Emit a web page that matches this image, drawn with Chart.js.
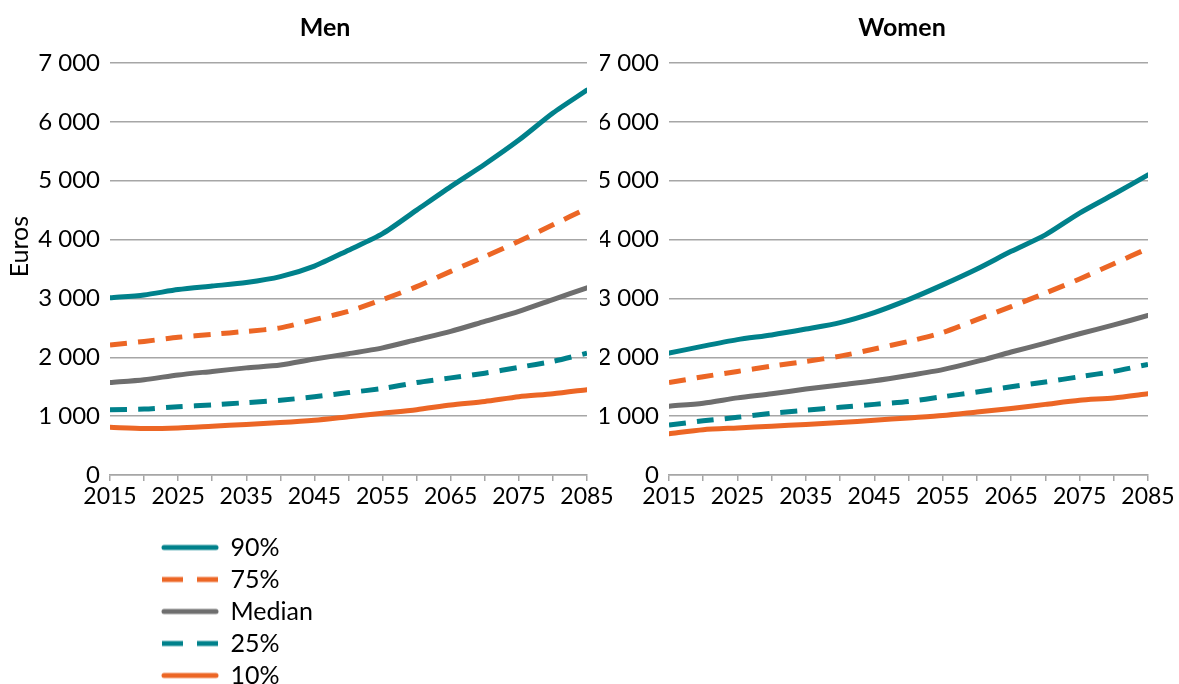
<!DOCTYPE html>
<html>
<head>
<meta charset="utf-8">
<script src="https://cdn.jsdelivr.net/npm/chart.js@4"></script>
<style>
  html, body { margin: 0; padding: 0; background: #fff; overflow: hidden; width: 1179px; height: 684px; }
  .box { position: absolute; }
  #menBox { left: 0; top: 0; width: 620px; height: 520px; }
  #womenBox { left: 600px; top: 0; width: 579px; height: 520px; }
  #legendBox { left: 155px; top: 528px; width: 300px; height: 200px; }
</style>
</head>
<body>
<div class="box" id="menBox"><canvas id="graficoMen"></canvas></div>
<div class="box" id="womenBox"><canvas id="graficoWomen"></canvas></div>
<div class="box" id="legendBox"><canvas id="graficoLegend"></canvas></div>
<script>
// dados
const years = [2015, 2020, 2025, 2030, 2035, 2040, 2045, 2050, 2055, 2060, 2065, 2070, 2075, 2080, 2085];
const seriesLabels = ['90%', '75%', 'Median', '25%', '10%'];

const men90     = [3010, 3060, 3150, 3210, 3270, 3370, 3550, 3820, 4100, 4500, 4900, 5280, 5690, 6150, 6540];
const men75     = [2210, 2270, 2340, 2390, 2440, 2500, 2640, 2780, 2980, 3200, 3460, 3710, 3970, 4250, 4530];
const menMedian = [1570, 1620, 1700, 1760, 1820, 1870, 1970, 2060, 2160, 2300, 2440, 2610, 2780, 2980, 3180];
const men25     = [1110, 1120, 1160, 1190, 1230, 1270, 1330, 1400, 1470, 1570, 1650, 1730, 1830, 1930, 2070];
const men10     = [810, 790, 800, 830, 860, 890, 930, 990, 1050, 1110, 1190, 1250, 1330, 1380, 1450];

const women90     = [2070, 2190, 2300, 2380, 2480, 2590, 2760, 2980, 3230, 3500, 3800, 4080, 4450, 4770, 5100];
const women75     = [1570, 1670, 1760, 1850, 1930, 2020, 2140, 2270, 2420, 2640, 2860, 3090, 3330, 3590, 3850];
const womenMedian = [1170, 1220, 1310, 1380, 1460, 1530, 1600, 1690, 1790, 1930, 2090, 2240, 2400, 2550, 2710];
const women25     = [850, 920, 980, 1050, 1100, 1150, 1200, 1250, 1330, 1410, 1500, 1580, 1670, 1760, 1880];
const women10     = [700, 770, 800, 830, 860, 890, 930, 970, 1010, 1070, 1130, 1200, 1270, 1310, 1380];

const teal = '#00818B';
const orange = '#EC6625';
const grey = '#6E6E6E';
const estilos = [
    { color: teal, dash: [] },
    { color: orange, dash: [17, 11] },
    { color: grey, dash: [] },
    { color: teal, dash: [17, 11] },
    { color: orange, dash: [] }
];

const fonte = 'Lato, "Open Sans", sans-serif';
const gridColor = '#A6A6A6';

function montarDatasets(series) {
    return series.map((vals, i) => ({
        label: seriesLabels[i],
        data: vals.map((v, j) => ({ x: years[j], y: v })),
        borderColor: estilos[i].color,
        backgroundColor: estilos[i].color,
        borderDash: estilos[i].dash,
        borderCapStyle: estilos[i].dash.length ? 'butt' : 'round',
        borderWidth: 5,
        pointRadius: 0,
        tension: 0.25,
        fill: false
    }));
}

function formatar(v) {
    return String(v).replace(/\B(?=(\d{3})+(?!\d))/g, ' ');
}

// ícone de linha (cheia ou tracejada) para a legenda
function iconeLinha(estilo) {
    const c = document.createElement('canvas');
    c.width = 58;
    c.height = 8;
    const g = c.getContext('2d');
    g.strokeStyle = estilo.color;
    g.lineWidth = 5;
    if (estilo.dash.length) {
        g.lineCap = 'butt';
        g.setLineDash([21, 14]);
        g.beginPath();
        g.moveTo(1, 4);
        g.lineTo(57, 4);
    } else {
        g.lineCap = 'round';
        g.beginPath();
        g.moveTo(3, 4);
        g.lineTo(55, 4);
    }
    g.stroke();
    return c;
}

// move o título para um centro escolhido
const titleShift = {
    id: 'titleShift',
    afterLayout(chart, args, opts) {
        const t = chart.titleBlock;
        if (!t || opts.center == null) return;
        const half = (t.right - t.left) / 2;
        t.left = opts.center - half;
        t.right = opts.center + half;
    }
};

function criarPainel(id, titulo, series, yWidth, padRight, yTitle, center) {
    const ctx = document.getElementById(id).getContext('2d');
    return new Chart(ctx, {
        type: 'line',
        data: { datasets: montarDatasets(series) },
        plugins: [titleShift],
        options: {
            responsive: true,
            maintainAspectRatio: false,
            animation: false,
            layout: { padding: { left: 0, right: padRight, top: 0, bottom: 0 } },
            plugins: {
                legend: { display: false },
                tooltip: { enabled: false },
                titleShift: { center: center },
                title: {
                    display: true,
                    text: titulo,
                    color: '#000',
                    font: { family: fonte, size: 25, weight: 'bold' },
                    padding: { top: 13, bottom: 20 }
                }
            },
            scales: {
                x: {
                    type: 'linear',
                    min: 2015,
                    max: 2085,
                    afterFit: (s) => { s.height = 45; },
                    grid: { drawOnChartArea: false, drawTicks: true, tickLength: 6, color: gridColor, lineWidth: 1.5 },
                    border: { display: true, color: gridColor, width: 1.5 },
                    ticks: {
                        stepSize: 5,
                        autoSkip: false,
                        maxRotation: 0,
                        padding: 2,
                        color: '#000',
                        font: { family: fonte, size: 23 },
                        callback: (v) => ((v - 2015) % 10 === 0 ? String(v) : '')
                    }
                },
                y: {
                    min: 0,
                    max: 7000,
                    afterFit: (s) => { s.width = yWidth; },
                    grid: { color: gridColor, lineWidth: 1.5, drawTicks: false },
                    border: { display: false },
                    title: {
                        display: yTitle,
                        // espaços à frente para subir um pouco o texto
                        text: '\u00A0\u00A0\u00A0\u00A0\u00A0\u00A0\u00A0Euros',
                        color: '#000',
                        font: { family: fonte, size: 25 },
                        padding: { top: 5, bottom: 0 }
                    },
                    ticks: {
                        stepSize: 1000,
                        padding: 10,
                        color: '#000',
                        font: { family: fonte, size: 24 },
                        callback: (v) => formatar(v)
                    }
                }
            }
        }
    });
}

window.onload = function() {
    criarPainel('graficoMen', 'Men', [men90, men75, menMedian, men25, men10], 110, 33, true, 325);
    criarPainel('graficoWomen', 'Women', [women90, women75, womenMedian, women25, women10], 69, 31, false, 302);

    // legenda vertical num gráfico separado
    const icones = estilos.map(iconeLinha);
    new Chart(document.getElementById('graficoLegend').getContext('2d'), {
        type: 'line',
        data: { datasets: montarDatasets([[], [], [], [], []]) },
        options: {
            responsive: true,
            maintainAspectRatio: false,
            animation: false,
            scales: { x: { display: false }, y: { display: false } },
            plugins: {
                tooltip: { enabled: false },
                legend: {
                    position: 'left',
                    align: 'start',
                    maxWidth: 300,
                    labels: {
                        usePointStyle: true,
                        pointStyleWidth: 56,
                        padding: 7,
                        color: '#000',
                        font: { family: fonte, size: 25 },
                        generateLabels: (chart) => chart.data.datasets.map((ds, i) => ({
                            text: ds.label,
                            fillStyle: ds.borderColor,
                            strokeStyle: ds.borderColor,
                            lineWidth: 0,
                            pointStyle: icones[i],
                            hidden: false,
                            datasetIndex: i
                        }))
                    }
                }
            }
        }
    });
};
</script>
</body>
</html>
